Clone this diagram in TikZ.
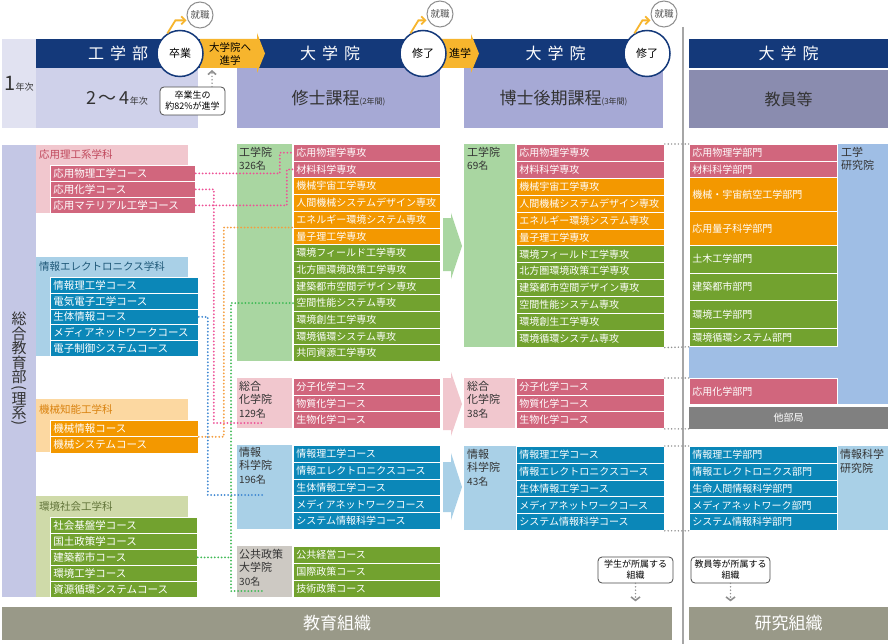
\documentclass[tikz,border=0pt]{standalone}
\usepackage{fontspec}
\setmainfont{Noto Sans CJK JP}
\usetikzlibrary{arrows.meta}
\newcommand\myvstack[1]{\vbox{\baselineskip=-1pt\lineskip=0.8pt\halign{\hfil##\hfil\cr#1\crcr}}}
\definecolor{navy}{HTML}{14397A}
\definecolor{lavA}{HTML}{E1E2F1}
\definecolor{lavB}{HTML}{CFD1EA}
\definecolor{lavC}{HTML}{C4C7E5}
\definecolor{progc}{HTML}{A6A9D5}
\definecolor{facc}{HTML}{8A8CAF}
\definecolor{pk}{HTML}{D1667D}
\definecolor{pkl}{HTML}{F1C7CE}
\definecolor{pkt}{HTML}{C0485C}
\definecolor{bl}{HTML}{0B87B8}
\definecolor{bll}{HTML}{A9D0E7}
\definecolor{blt}{HTML}{1F5878}
\definecolor{orc}{HTML}{F39800}
\definecolor{orl}{HTML}{FCD8A1}
\definecolor{ort}{HTML}{D9820F}
\definecolor{gn}{HTML}{72A22F}
\definecolor{gnl}{HTML}{CFDAA9}
\definecolor{gnt}{HTML}{62743A}
\definecolor{gbg}{HTML}{A9D6A1}
\definecolor{pubc}{HTML}{CDC9C3}
\definecolor{rbl}{HTML}{9FBEE5}
\definecolor{grayc}{HTML}{808080}
\definecolor{barc}{HTML}{999988}
\definecolor{arrc}{HTML}{F7B52D}
\definecolor{dpk}{HTML}{EE5096}
\definecolor{dbl}{HTML}{3F88D2}
\definecolor{dor}{HTML}{F59E3E}
\definecolor{dgn}{HTML}{3FBA55}
\definecolor{dgy}{HTML}{8F8F8F}
\definecolor{txt}{HTML}{333333}
\begin{document}
\begin{tikzpicture}[x=1pt,y=-1pt,
  box/.style={anchor=north west, inner sep=0pt, outer sep=0pt},
  row/.style={anchor=north west, draw=white, line width=0.8pt, text=white, inner xsep=3pt, inner ysep=0pt, align=left, font=\fontsize{10}{12}\selectfont},
  dotl/.style={line width=2pt, dash pattern=on 0pt off 3.4pt, line cap=round},
  lab/.style={anchor=north west, inner sep=0pt, align=left, text=txt, font=\fontsize{11}{13.5}\selectfont},
  hd/.style={anchor=west, inner sep=0pt, font=\fontsize{10.5}{12}\selectfont},
  navybar/.style={box, fill=navy, text=white, font=\fontsize{16}{16}\selectfont},
  circ/.style={circle, draw=navy, line width=1.5pt, fill=white, minimum size=46pt, inner sep=0pt, font=\fontsize{11}{12}\selectfont},
  job/.style={circle, draw=dgy, line width=1pt, fill=white, minimum size=26pt, inner sep=0pt, text=black!65, font=\fontsize{9.5}{10}\selectfont},
  jobarr/.style={draw=arrc, line width=1.8pt, -{Straight Barb[length=4pt,width=8pt]}},
  legend/.style={draw=black!70, line width=0.8pt, rounded corners=4pt, fill=white, align=center, inner sep=1pt, font=\fontsize{9}{11}\selectfont},
  gdot/.style={dotl, dgy, line width=1.6pt}
]
\useasboundingbox (0,0) rectangle (890,644);
\fill[white] (0,0) rectangle (890,644);

% ---------- header ----------
\node[box, fill=lavA, minimum width=34pt, minimum height=89pt, text=txt] (y1) at (2,39) {{\fontsize{20}{20}\selectfont 1}{\fontsize{9}{9}\selectfont 年次}};
\node[navybar, minimum width=164pt, minimum height=29pt] (kbar) at (36,39) {工\hspace{6pt}学\hspace{6pt}部};
\node[box, fill=lavB, minimum width=162pt, minimum height=60pt, text=txt] (k24) at (36,68) {{\fontsize{18}{18}\selectfont 2\,〜\,4}{\fontsize{9}{9}\selectfont 年次}};
\node[navybar, minimum width=186pt, minimum height=29pt] (mbar) at (237,39) {大\hspace{6pt}学\hspace{6pt}院};
\node[box, fill=progc, minimum width=203pt, minimum height=60pt, text=txt] (mprog) at (237,68) {{\fontsize{17}{17}\selectfont 修士課程}{\fontsize{8}{8}\selectfont (2年間)}};
\node[navybar, minimum width=183pt, minimum height=29pt] (dbar) at (464,39) {大\hspace{6pt}学\hspace{6pt}院};
\node[box, fill=progc, minimum width=199pt, minimum height=60pt, text=txt] (dprog) at (464,68) {{\fontsize{17}{17}\selectfont 博士後期課程}{\fontsize{8}{8}\selectfont (3年間)}};
\node[navybar, minimum width=199pt, minimum height=29pt] (rbar) at (689,39) {大\hspace{6pt}学\hspace{6pt}院};
\node[box, fill=facc, minimum width=199pt, minimum height=58pt, text=txt, font=\fontsize{16}{16}\selectfont] (fac) at (689,70) {教員等};

% orange progress arrows
\fill[arrc] (200,39) -- (257,39) -- (257,33) -- (265,53.5) -- (257,73) -- (257,68) -- (200,68) -- cycle;
\node[inner sep=0pt, align=center, font=\fontsize{10.5}{13}\selectfont] (adv1) at (230,54) {大学院へ\\進学};
\fill[arrc] (440,39) -- (471,39) -- (471,34) -- (479,53.5) -- (471,73) -- (471,68) -- (440,68) -- cycle;
\node[inner sep=0pt, font=\fontsize{11}{12}\selectfont] (adv2) at (460,53.5) {進学};

\node[circ] (grad) at (180,53.5) {卒業};
\node[circ] (fin1) at (423,53.5) {修了};
\node[circ] (fin2) at (647,53.5) {修了};

\node[job] (job1) at (200,15) {就職};
\node[job] (job2) at (440,14) {就職};
\node[job] (job3) at (664,14) {就職};
\draw[jobarr] (grad.122) -- ++(8,-13) coordinate (j1) -- (j1 -| job1.west);
\draw[jobarr] (fin1.122) -- ++(8,-13) coordinate (j2) -- (j2 -| job2.west);
\draw[jobarr] (fin2.122) -- ++(8,-13) coordinate (j3) -- (j3 -| job3.west);

\node[legend, minimum width=65pt, minimum height=28pt] (ratio) at (192.5,101) {卒業生の\\約82\%が進学};
\coordinate (up1) at (212,70);
\draw[gdot, -{Straight Barb[length=3.5pt,width=8pt]}] (up1 |- ratio.north) -- (up1);

% divider
\draw[black!35, line width=1.5pt] (683,27) -- (683,644);

% ---------- left column ----------
\node[box, fill=lavC, minimum width=34pt, minimum height=452pt] (sogobg) at (2,145) {};
\node[inner sep=0pt, text=txt, font=\fontsize{15}{15}\selectfont] (sogo) at (19,370) {\myvstack{総\cr 合\cr 教\cr 育\cr 部\cr \rotatebox[origin=c]{-90}{(}\cr 理\cr 系\cr \rotatebox[origin=c]{-90}{)}}};

% departments
\node[box, fill=pkl, minimum width=152pt, minimum height=68pt] (apbg) at (36,145) {};
\node[hd, text=pkt] (aph) at (39,154.5) {応用理工系学科};
\foreach \t [count=\i from 0] in {応用物理工学コース,応用化学コース,応用マテリアル工学コース}
  \node[row, fill=pk, text width=139pt, minimum height=16pt, font=\fontsize{10.5}{12}\selectfont] (ap\i) at (50,{165+16*\i}) {\t};

\node[box, fill=bll, minimum width=152pt, minimum height=99pt] (iebg) at (36,257) {};
\node[hd, text=blt] (ieh) at (39,266.5) {情報エレクトロニクス学科};
\foreach \t [count=\i from 0] in {情報理工学コース,電気電子工学コース,生体情報コース,メディアネットワークコース,電子制御システムコース}
  \node[row, fill=bl, text width=142pt, minimum height=15.8pt, font=\fontsize{10.5}{12}\selectfont] (ie\i) at (50,{277+15.8*\i}) {\t};

\node[box, fill=orl, minimum width=152pt, minimum height=53pt] (mibg) at (36,399) {};
\node[hd, text=ort] (mih) at (39,409) {機械知能工学科};
\foreach \t [count=\i from 0] in {機械情報コース,機械システムコース}
  \node[row, fill=orc, text width=142pt, minimum height=16.5pt, font=\fontsize{10.5}{12}\selectfont] (mi\i) at (50,{419.5+16.5*\i}) {\t};

\node[box, fill=gnl, minimum width=152pt, minimum height=101pt] (evbg) at (36,496) {};
\node[hd, text=gnt] (evh) at (39,506.5) {環境社会工学科};
\foreach \t [count=\i from 0] in {社会基盤学コース,国土政策学コース,建築都市コース,環境工学コース,資源循環システムコース}
  \node[row, fill=gn, text width=141pt, minimum height=16pt, font=\fontsize{10.5}{12}\selectfont] (ev\i) at (50,{517+16*\i}) {\t};

% ---------- master ----------
\node[box, fill=gbg, minimum width=55pt, minimum height=217pt] (mkbg) at (237,144) {};
\node[lab] (mkl) at (239,147) {工学院\\{\fontsize{10}{13.5}\selectfont 326名}};
\foreach \t/\c [count=\i from 0] in {応用物理学専攻/pk,材料科学専攻/pk,機械宇宙工学専攻/orc,人間機械システムデザイン専攻/orc,エネルギー環境システム専攻/orc,量子理工学専攻/orc,環境フィールド工学専攻/gn,北方圏環境政策工学専攻/gn,建築都市空間デザイン専攻/gn,空間性能システム専攻/gn,環境創生工学専攻/gn,環境循環システム専攻/gn,共同資源工学専攻/gn}
  \node[row, fill=\c, text width=141pt, minimum height=16.7pt] (mk\i) at (293,{144+16.7*\i}) {\t};

\node[box, fill=pkl, minimum width=55pt, minimum height=50pt] (mcbg) at (237,378) {};
\node[lab] (mcl) at (239,381) {総合\\化学院\\{\fontsize{10}{13.5}\selectfont 129名}};
\foreach \t [count=\i from 0] in {分子化学コース,物質化学コース,生物化学コース}
  \node[row, fill=pk, text width=141pt, minimum height=16.7pt] (mc\i) at (293,{378+16.7*\i}) {\t};

\node[box, fill=bll, minimum width=55pt, minimum height=84pt] (msbg) at (237,445) {};
\node[lab] (msl) at (239,447) {情報\\科学院\\{\fontsize{10}{13.5}\selectfont 196名}};
\foreach \t [count=\i from 0] in {情報理工学コース,情報エレクトロニクスコース,生体情報工学コース,メディアネットワークコース,システム情報科学コース}
  \node[row, fill=bl, text width=141pt, minimum height=16.8pt] (ms\i) at (293,{445+16.8*\i}) {\t};

\node[box, fill=pubc, minimum width=55pt, minimum height=51pt] (mpbg) at (237,546) {};
\node[lab] (mpl) at (239,549) {公共政策\\大学院\\{\fontsize{10}{13.5}\selectfont 30名}};
\foreach \t [count=\i from 0] in {公共経営コース,国際政策コース,技術政策コース}
  \node[row, fill=gn, text width=141pt, minimum height=17pt] (mp\i) at (293,{546+17*\i}) {\t};

% big arrows master -> doctor
\fill[gbg] (443,218) -- (451,218) -- (451,213) -- (462,246) -- (451,279) -- (451,271) -- (443,271) -- cycle;
\fill[pkl] (443,378) -- (451,378) -- (451,372) -- (462,404) -- (451,436) -- (451,430) -- (443,430) -- cycle;
\fill[bll] (443,462) -- (451,462) -- (451,453) -- (462,487) -- (451,520) -- (451,512) -- (443,512) -- cycle;

% ---------- doctor ----------
\node[box, fill=gbg, minimum width=51pt, minimum height=203pt] (dkbg) at (464,144) {};
\node[lab] (dkl) at (467,147) {工学院\\{\fontsize{10}{13.5}\selectfont 69名}};
\foreach \t/\c [count=\i from 0] in {応用物理学専攻/pk,材料科学専攻/pk,機械宇宙工学専攻/orc,人間機械システムデザイン専攻/orc,エネルギー環境システム専攻/orc,量子理工学専攻/orc,環境フィールド工学専攻/gn,北方圏環境政策工学専攻/gn,建築都市空間デザイン専攻/gn,空間性能システム専攻/gn,環境創生工学専攻/gn,環境循環システム専攻/gn}
  \node[row, fill=\c, text width=142pt, minimum height=16.9pt] (dk\i) at (516,{144+16.9*\i}) {\t};

\node[box, fill=pkl, minimum width=51pt, minimum height=50pt] (dcbg) at (464,378) {};
\node[lab] (dcl) at (467,381) {総合\\化学院\\{\fontsize{10}{13.5}\selectfont 38名}};
\foreach \t [count=\i from 0] in {分子化学コース,物質化学コース,生物化学コース}
  \node[row, fill=pk, text width=142pt, minimum height=16.7pt] (dc\i) at (516,{378+16.7*\i}) {\t};

\node[box, fill=bll, minimum width=52pt, minimum height=84pt] (dibg) at (464,446) {};
\node[lab] (dil) at (467,449) {情報\\科学院\\{\fontsize{10}{13.5}\selectfont 43名}};
\foreach \t [count=\i from 0] in {情報理工学コース,情報エレクトロニクスコース,生体情報工学コース,メディアネットワークコース,システム情報科学コース}
  \node[row, fill=bl, text width=142pt, minimum height=16.8pt] (di\i) at (516,{446+16.8*\i}) {\t};

% ---------- research ----------
\node[box, fill=rbl, minimum width=199pt, minimum height=260pt] (rkbg) at (689,144) {};
\node[lab] (rkl) at (841,147) {工学\\研究院};
\foreach \y/\h/\t/\c [count=\i from 0] in {144/17/応用物理学部門/pk,161/16.5/材料科学部門/pk,177.5/33.5/機械・宇宙航空工学部門/orc,211/34/応用量子科学部門/orc,245/27.5/土木工学部門/gn,272.5/27.5/建築都市部門/gn,300/28/環境工学部門/gn,328/18/環境循環システム部門/gn}
  \node[row, fill=\c, text width=142pt, minimum height=\h pt] (rk\i) at (689,\y) {\t};
\node[row, fill=pk, text width=142pt, minimum height=26pt] (rac) at (689,378) {応用化学部門};
\node[box, fill=grayc, minimum width=199pt, minimum height=22pt, text=white, font=\fontsize{10}{12}\selectfont] (tabu) at (689,407) {他部局};

\node[box, fill=bll, minimum width=51pt, minimum height=84pt] (ribg) at (837,446) {};
\node[lab] (ril) at (840,449) {情報科学\\研究院};
\foreach \t [count=\i from 0] in {情報理工学部門,情報エレクトロニクス部門,生命人間情報科学部門,メディアネットワーク部門,システム情報科学部門}
  \node[row, fill=bl, text width=142pt, minimum height=16.8pt] (ri\i) at (689,{446+16.8*\i}) {\t};

% ---------- connectors: courses -> majors ----------
\draw[dotl, dpk] (ap0.east) -- ++(84,0) |- (mk0.west);
\draw[dotl, dpk] (ap2.east) -- ++(91,0) |- (mk1.west);
\coordinate (pkend) at (263,423);
\draw[dotl, dpk] (ap1.east) -- ++(18,0) |- (pkend);
\draw[dotl, dor] (mi0.south east) -- ++(25,0) |- (mk5.north west);
\coordinate (blend) at (265,495);
\draw[dotl, dbl] (ie2.east) -- ++(9,0) |- (blend);
\coordinate (gnend) at (263,591);
\coordinate (gnv) at (231,591);
\draw[dotl, dgn] (mk9.west) -| (gnv) -- (gnend);
\draw[dotl, dgn] (ev2.east) -- (ev2.east -| gnv);

% doctor -> research
\draw[gdot] (dk0.north east) -- (rk0.north west);
\draw[gdot] (dk11.south east) -- (rk7.south west);
\draw[gdot] (dc0.north east) -- (rac.north west);
\draw[gdot] (dc2.south east) -- (dc2.south east -| tabu.west);
\draw[gdot] (di0.north east) -- (ri0.north west);
\draw[gdot] (di4.south east) -- (ri4.south west);

% ---------- legends and bottom bars ----------
\node[legend, minimum width=75pt, minimum height=26pt] (leg1) at (635.5,570) {学生が所属する\\組織};
\node[legend, minimum width=79pt, minimum height=26pt] (leg2) at (730.5,570) {教員等が所属する\\組織};
\draw[gdot, -{Straight Barb[length=3.5pt,width=9pt]}] (leg1.south) -- ++(0,18);
\draw[gdot, -{Straight Barb[length=3.5pt,width=9pt]}] (leg2.south) -- ++(0,18);

\node[box, fill=barc, minimum width=670pt, minimum height=33pt, text=white, font=\fontsize{17}{17}\selectfont] (edu) at (2,607) {教育組織};
\node[box, fill=barc, minimum width=199pt, minimum height=33pt, text=white, font=\fontsize{17}{17}\selectfont] (res) at (689,607) {研究組織};
\end{tikzpicture}
\end{document}
